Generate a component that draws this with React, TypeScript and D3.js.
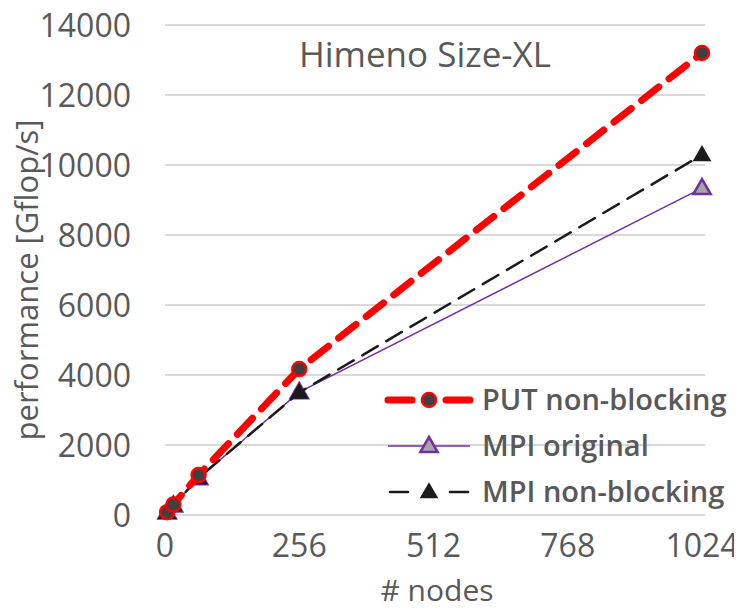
import React, { useEffect, useRef } from "react";
import * as d3 from "d3";

const nodes = [4, 16, 64, 256, 1024];
const putNonBlocking = [80, 300, 1140, 4170, 13200];
const mpiOriginal = [70, 270, 1050, 3510, 9340];
const mpiNonBlocking = [70, 280, 1060, 3500, 10290];
const xTicks = [0, 256, 512, 768, 1024];
const yTicks = [0, 2000, 4000, 6000, 8000, 10000, 12000, 14000];

const FONT = "'Open Sans', 'Noto Sans', sans-serif";
const GRAY = "#595959";

export default function App() {
  const svgRef = useRef<SVGSVGElement | null>(null);

  useEffect(() => {
    if (!svgRef.current) return;
    const svg = d3.select(svgRef.current);
    svg.selectAll("*").remove();

    const x = d3.scaleLinear().domain([0, 1024]).range([165, 702]);
    const y = d3.scaleLinear().domain([0, 14000]).range([515, 25]);

    // gridlines
    svg
      .append("g")
      .selectAll("line")
      .data(yTicks)
      .join("line")
      .attr("x1", 165)
      .attr("x2", 705)
      .attr("y1", (d) => y(d))
      .attr("y2", (d) => y(d))
      .attr("stroke", "#d9d9d9")
      .attr("stroke-width", 2);

    // y tick labels
    svg
      .append("g")
      .selectAll("text")
      .data(yTicks)
      .join("text")
      .attr("x", 131)
      .attr("y", (d) => y(d))
      .attr("dy", "0.36em")
      .attr("text-anchor", "end")
      .attr("font-family", FONT)
      .attr("font-size", 32)
      .attr("fill", GRAY)
      .text((d) => String(d));

    // x tick labels
    svg
      .append("g")
      .selectAll("text")
      .data(xTicks)
      .join("text")
      .attr("x", (d) => x(d))
      .attr("y", 557)
      .attr("text-anchor", "middle")
      .attr("font-family", FONT)
      .attr("font-size", 32)
      .attr("fill", GRAY)
      .text((d) => String(d));

    svg
      .append("text")
      .attr("x", 437)
      .attr("y", 601)
      .attr("text-anchor", "middle")
      .attr("font-family", FONT)
      .attr("font-size", 30)
      .attr("fill", GRAY)
      .text("# nodes");

    svg
      .append("text")
      .attr("transform", "translate(38,280) rotate(-90)")
      .attr("text-anchor", "middle")
      .attr("font-family", FONT)
      .attr("font-size", 31)
      .attr("fill", GRAY)
      .text("performance [Gflop/s]");

    svg
      .append("text")
      .attr("x", 425)
      .attr("y", 67)
      .attr("text-anchor", "middle")
      .attr("font-family", FONT)
      .attr("font-size", 35)
      .attr("fill", GRAY)
      .text("Himeno Size-XL");

    const line = d3
      .line<[number, number]>()
      .x((d) => x(d[0]))
      .y((d) => y(d[1]));

    const tri = d3.symbol().type(d3.symbolTriangle);

    const series = [
      {
        name: "PUT non-blocking",
        values: putNonBlocking,
        stroke: "#ff0000",
        width: 7,
        dash: "22 13",
        marker: "circle",
      },
      {
        name: "MPI original",
        values: mpiOriginal,
        stroke: "#7030a0",
        width: 1.5,
        dash: null,
        marker: "triOpen",
      },
      {
        name: "MPI non-blocking",
        values: mpiNonBlocking,
        stroke: "#1a1a1a",
        width: 2.5,
        dash: "18 10",
        marker: "triFill",
      },
    ];

    const drawMarker = (
      g: d3.Selection<SVGGElement, unknown, null, undefined>,
      kind: string,
      cx: number,
      cy: number
    ) => {
      if (kind === "circle") {
        g.append("circle")
          .attr("cx", cx)
          .attr("cy", cy)
          .attr("r", 7)
          .attr("fill", "#404040")
          .attr("stroke", "#ff0000")
          .attr("stroke-width", 2.5);
      } else if (kind === "triOpen") {
        g.append("path")
          .attr("d", tri.size(130)()!)
          .attr("transform", `translate(${cx},${cy + 1})`)
          .attr("fill", "#a6a6a6")
          .attr("stroke", "#7030a0")
          .attr("stroke-width", 2.5);
      } else {
        g.append("path")
          .attr("d", tri.size(150)()!)
          .attr("transform", `translate(${cx},${cy + 1})`)
          .attr("fill", "#1a1a1a");
      }
    };

    // draw lines back-to-front: MPI original, MPI non-blocking, PUT
    const order = [1, 2, 0];
    order.forEach((i) => {
      const s = series[i];
      const data = nodes.map((n, k) => [n, s.values[k]] as [number, number]);
      const g = svg.append("g");
      g.append("path")
        .datum(data)
        .attr("fill", "none")
        .attr("stroke", s.stroke)
        .attr("stroke-width", s.width)
        .attr("stroke-linecap", s.dash ? "round" : "butt")
        .attr("stroke-dasharray", s.dash ?? null)
        .attr("d", line);
      data.forEach((d) => drawMarker(g, s.marker, x(d[0]), y(d[1])));
    });

    // legend
    const legendY = [400, 446, 492];
    series.forEach((s, i) => {
      const g = svg.append("g");
      const ly = legendY[i];
      if (s.dash) {
        const segs = i === 0 ? [[388, 412], [446, 470]] : [[390, 408], [450, 468]];
        segs.forEach(([a, b]) =>
          g
            .append("line")
            .attr("x1", a)
            .attr("x2", b)
            .attr("y1", ly)
            .attr("y2", ly)
            .attr("stroke", s.stroke)
            .attr("stroke-width", s.width)
            .attr("stroke-linecap", "round")
        );
      } else {
        g.append("line")
          .attr("x1", 388)
          .attr("x2", 470)
          .attr("y1", ly)
          .attr("y2", ly)
          .attr("stroke", s.stroke)
          .attr("stroke-width", s.width);
      }
      drawMarker(g, s.marker, 429, ly);
      g.append("text")
        .attr("x", 482)
        .attr("y", ly)
        .attr("dy", "0.36em")
        .attr("font-family", FONT)
        .attr("font-size", 29)
        .attr("font-weight", 600)
        .attr("fill", GRAY)
        .text(s.name);
    });
  }, []);

  return (
    <div style={{ margin: -8 }}>
      <svg ref={svgRef} width={742} height={613} style={{ display: "block", background: "#fff" }} />
    </div>
  );
}
